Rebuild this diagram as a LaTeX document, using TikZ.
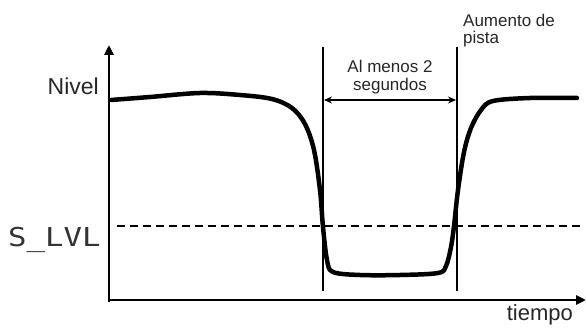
\documentclass[tikz,border=0pt]{standalone}
\usepackage{fontspec}
\setmainfont{Liberation Sans}
\newfontfamily\lcdfont{DejaVu Sans Mono}
\usetikzlibrary{arrows.meta}
\begin{document}
\begin{tikzpicture}[x=1pt,y=-1pt,
  axis/.style={line width=2.8pt,-{Triangle[length=10pt,width=9pt]}},
  sig/.style={line width=4.5pt,line cap=round,line join=round},
  marker/.style={line width=1.5pt},
  lbl/.style={font=\fontsize{17}{19}\selectfont,inner sep=0pt,text=black!85}]
\useasboundingbox (0,0) rectangle (586,331);
% axes
\coordinate (o) at (109,300);
\coordinate (ytop) at (109,45);
\coordinate (xend) at (586,300);
\draw[axis] (109,302) -- (ytop);
\draw[axis] (107.6,300) -- (xend);
% threshold
\coordinate (d1) at (117,226);
\coordinate (d2) at (580,226);
\draw[line width=1.5pt,dash pattern=on 8pt off 5pt] (d1) -- (d2);
% markers
\coordinate (m1t) at (323,47);
\coordinate (m1b) at (323,291);
\coordinate (m2t) at (457,47);
\coordinate (m2b) at (457,291);
\draw[marker] (m1t) -- (m1b);
\draw[marker] (m2t) -- (m2b);
\coordinate (a1) at (324,100);
\coordinate (a2) at (456,100);
\draw[line width=1.5pt,{Stealth[length=8pt,width=7pt]}-{Stealth[length=8pt,width=7pt]}] (a1) -- (a2);
% signal
\draw[sig] plot[smooth,tension=0.55] coordinates {(111,100) (150,97) (200,93) (240,95) (272,99) (292,108) (305,124) (314,150) (320,190) (323,227) (327,260) (333,272) (360,275) (400,275) (438,273) (446,266) (451,247) (454,226) (458,190) (464,152) (471,128) (481,110) (493,101) (530,98) (577,98)};
% labels
\node[font=\fontsize{23}{25}\selectfont,anchor=base east,inner sep=0pt,text=black!85] (nivel) at (99,95) {Nivel};
\node[font=\lcdfont\fontsize{26}{28}\selectfont,anchor=base west,inner sep=0pt,text=black!80] (slvl) at (8,246) {\scalebox{1.18}[1]{S\_LVL}};
\node[font=\fontsize{22}{24}\selectfont,anchor=base east,inner sep=0pt,text=black!85] (tiempo) at (573,320) {tiempo};
\node[lbl,anchor=base] (al) at (390,73) {Al menos 2};
\node[lbl,anchor=base] (seg) at (390,91) {segundos};
\node[lbl,anchor=base west] (aum) at (463,27) {Aumento de};
\node[lbl,anchor=base west] (pista) at (463,44) {pista};
\end{tikzpicture}
\end{document}
